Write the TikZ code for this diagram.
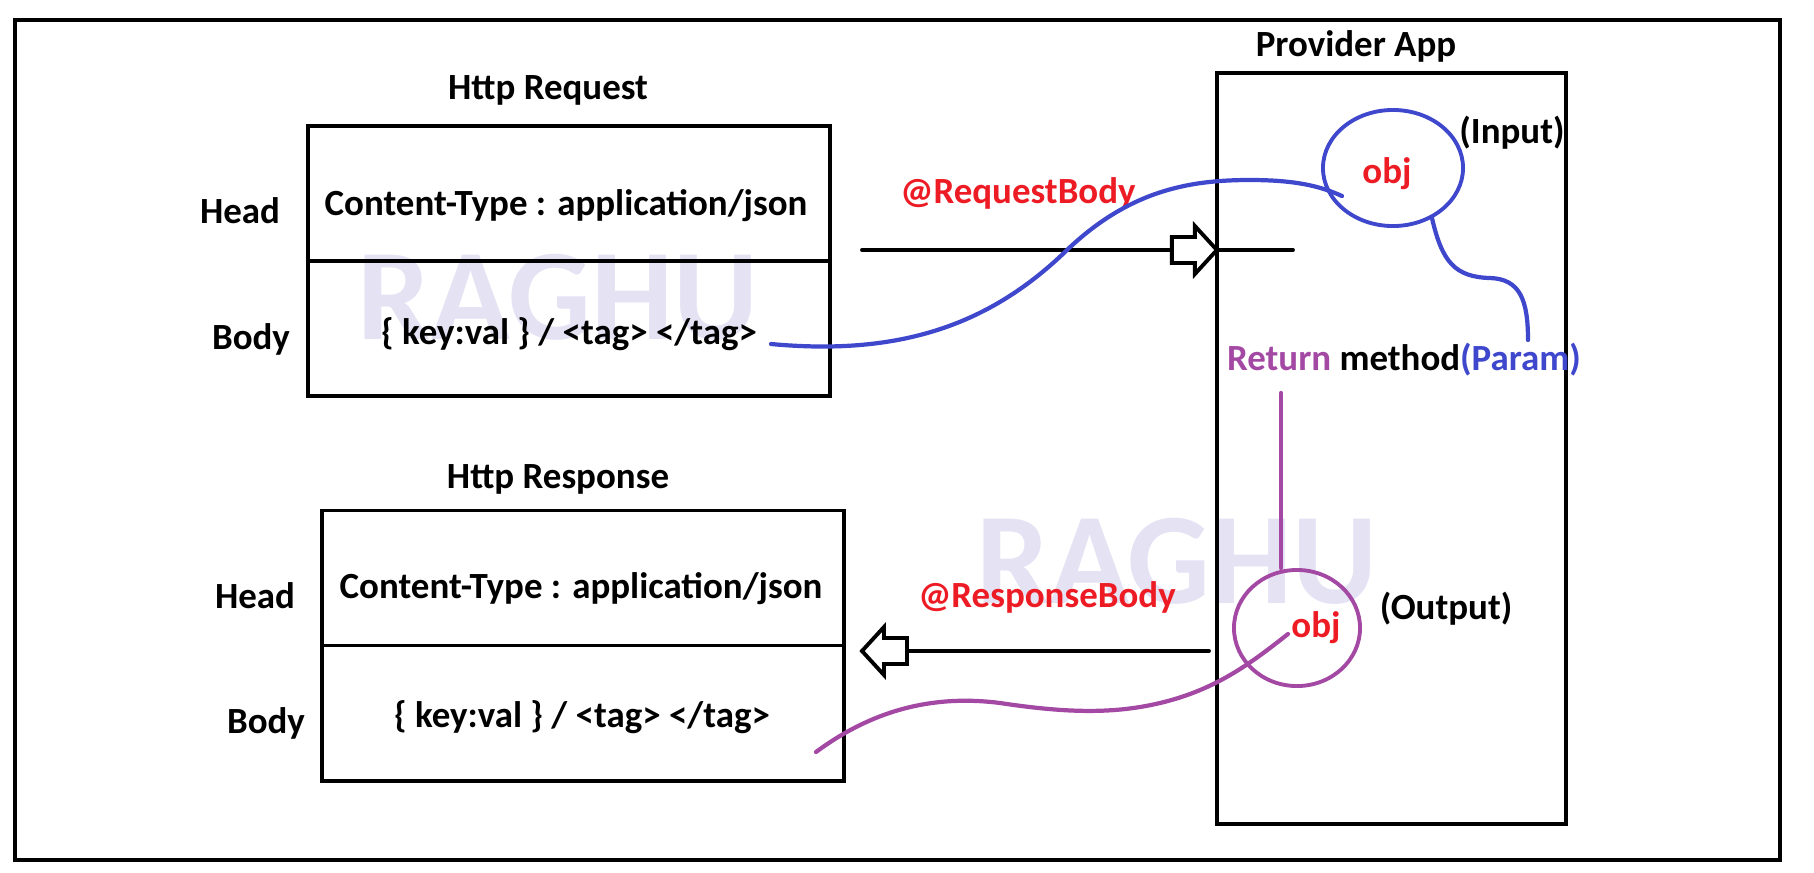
\documentclass[tikz,border=0pt]{standalone}
\usepackage{fontspec}
\setmainfont{Carlito}
\usetikzlibrary{shapes.geometric}
\definecolor{penblue}{RGB}{63,72,204}
\definecolor{penpurple}{RGB}{163,73,164}
\definecolor{penred}{RGB}{237,28,36}
\definecolor{wmark}{RGB}{229,226,244}
\tikzset{
    label text/.style={font=\bfseries\fontsize{10.5}{12}\selectfont, inner sep=0pt},
    red text/.style={label text, text=penred},
    half box/.style={draw, line width=1.1pt, minimum width=5.22cm, minimum height=1.35cm, inner sep=0pt, outer sep=0pt},
    watermark/.style={text=wmark, font=\bfseries\fontsize{37}{40}\selectfont, inner sep=0pt},
    flow line/.style={line width=1.1pt, line cap=round},
    hollow arrow/.style={draw, fill=white, line width=1.1pt, line join=miter},
    ring/.style={ellipse, draw, line width=1.1pt, inner sep=0pt},
    blue pen/.style={draw=penblue, line width=1.2pt, line cap=round},
    purple pen/.style={draw=penpurple, line width=1.2pt, line cap=round},
    common settings/.style={x=0.01cm, y=-0.01cm}
}
\begin{document}
\begin{tikzpicture}[common settings]
    \useasboundingbox (0,0) rectangle (1814,872);

    % 1. Watermarks
    \node[watermark] (markreq) at (558,297) {RAGHU};
    \node[watermark] (markprov) at (1177,561) {RAGHU};

    % 2. Outer frame
    \draw[line width=1.4pt] (15,20) rectangle (1780,860);

    % 3. Http Request
    \node[label text] (reqtitle) at (548,90) {Http Request};
    \node[half box] (reqhead) at (569,193.5) {};
    \node[half box, anchor=north] (reqbody) at (reqhead.south) {};
    \node[label text] (reqtype) at (566,206) {Content-Type : application/json};
    \node[label text] (reqdata) at (569,334) {\{ key:val \} / <tag> </tag>};
    \node[label text] (reqheadlbl) at (240,211) {Head};
    \node[label text] (reqbodylbl) at (251,339) {Body};

    % 4. Http Response
    \node[label text] (resptitle) at (558,479) {Http Response};
    \node[half box] (resphead) at (583,578) {};
    \node[half box, anchor=north] (respbody) at (resphead.south) {};
    \node[label text] (resptype) at (581,589) {Content-Type : application/json};
    \node[label text] (respdata) at (582,717) {\{ key:val \} / <tag> </tag>};
    \node[label text] (respheadlbl) at (255,596) {Head};
    \node[label text] (respbodylbl) at (266,723) {Body};

    % 5. Provider App
    \node[label text] (provtitle) at (1356,46) {Provider App};
    \node[draw, line width=1.1pt, minimum width=3.49cm, minimum height=7.51cm,
          inner sep=0pt, outer sep=0pt] (provider) at (1391.5,448.5) {};

    % 6. Request and response arrows
    \coordinate (reqfrom) at (862,250);
    \coordinate (reqto) at (1293,250);
    \draw[flow line] (reqfrom) -- (reqto);
    \draw[hollow arrow] (provider.west |- reqfrom) -- ++(-22,-24) -- ++(0,11) -- ++(-23,0)
        -- ++(0,26) -- ++(23,0) -- ++(0,11) -- cycle;
    \node[red text] (reqanno) at (1018,193) {@RequestBody};

    \coordinate (respfrom) at (1209,651);
    \coordinate (respto) at (862,651);
    \draw[flow line] (respfrom) -- (respto);
    \draw[hollow arrow] (respto) -- ++(22,-24) -- ++(0,11) -- ++(23,0)
        -- ++(0,26) -- ++(-23,0) -- ++(0,11) -- cycle;
    \node[red text] (respanno) at (1047,597) {@ResponseBody};

    % 7. Objects in the provider
    \node[ring, draw=penblue, minimum width=1.40cm, minimum height=1.16cm] (inring) at (1393,168) {};
    \node[red text] (objin) at (1387,174) {obj};
    \node[label text] (inputlbl) at (1512,133) {(Input)};

    \node[label text] (method) at (1404,360)
        {\textcolor{penpurple}{Return} method\textcolor{penblue}{(Param)}};

    \node[ring, draw=penpurple, minimum width=1.26cm, minimum height=1.16cm] (outring) at (1297,628) {};
    \node[red text] (objout) at (1316,628) {obj};
    \node[label text] (outputlbl) at (1446,609) {(Output)};

    % 8. Hand-drawn links
    \coordinate (bluestart) at (771,344);
    \coordinate (blueend) at (1342,196);
    \draw[blue pen] (bluestart) .. controls (900,356) and (990,325) .. (1067,250)
        .. controls (1130,190) and (1190,180) .. (1250,180)
        .. controls (1295,180) and (1320,186) .. (blueend);

    \coordinate (paramstart) at (1432,218);
    \coordinate (paramend) at (1528,340);
    \draw[blue pen] (paramstart) .. controls (1442,262) and (1455,277) .. (1490,278)
        .. controls (1520,279) and (1528,300) .. (paramend);

    \coordinate (retstart) at (1281,393);
    \draw[purple pen] (retstart) -- (retstart |- outring.north);

    \coordinate (purpstart) at (1288,634);
    \coordinate (purpend) at (816,752);
    \draw[purple pen] (purpstart) .. controls (1250,664) and (1215,690) .. (1160,703)
        .. controls (1110,715) and (1060,712) .. (1000,703)
        .. controls (930,694) and (870,712) .. (purpend);

\end{tikzpicture}
\end{document}
